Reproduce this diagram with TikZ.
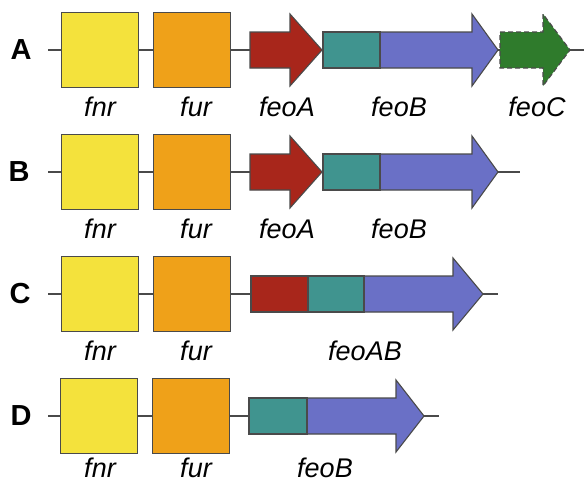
\documentclass[tikz,border=0pt]{standalone}
\usepackage{fontspec}
\setmainfont{Liberation Sans}
\definecolor{cfnr}{HTML}{F4E23C}
\definecolor{cfur}{HTML}{EFA119}
\definecolor{cred}{HTML}{A8261B}
\definecolor{cteal}{HTML}{40948F}
\definecolor{cblue}{HTML}{6A70C6}
\definecolor{cgreen}{HTML}{2F7B2C}
\definecolor{cedge}{HTML}{4A4A4A}
\begin{document}
\begin{tikzpicture}[x=1pt,y=-1pt,
  backbone/.style={draw=cedge,line width=1.1pt},
  genebox/.style={draw=cedge,line width=1.1pt,minimum width=77pt,minimum height=75pt,inner sep=0pt,anchor=west},
  geneshape/.style={draw=cedge,line width=1.1pt,line join=miter},
  genelabel/.style={font=\fontsize{27}{30}\selectfont\itshape,inner sep=0pt,anchor=base},
  rowlabel/.style={font=\fontsize{29}{31}\selectfont\bfseries,inner sep=0pt}]
\useasboundingbox (0,0) rectangle (584,483);
% ---------- Row A ----------
\coordinate (a0) at (48,50); \coordinate (a1) at (584,50);
\draw[backbone] (a0) -- (a1);
\node[rowlabel] (lA) at (21,50) {A};
\node[genebox,fill=cfnr] (fnrA) at (61,50) {};
\node[genebox,fill=cfur] (furA) at (153,50) {};
\draw[geneshape,fill=cred] (250,32) -- (290,32) -- (290,14) -- (322,50) -- (290,86) -- (290,68) -- (250,68) -- cycle;
\draw[geneshape,fill=cblue] (323,32) -- (472,32) -- (472,14) -- (498,50) -- (472,86) -- (472,68) -- (323,68) -- cycle;
\draw[geneshape,fill=cteal] (323,32) rectangle (380,68);
\draw[geneshape,fill=cgreen,dashed,dash pattern=on 5pt off 3pt] (500,32) -- (543,32) -- (543,14) -- (570,50) -- (543,86) -- (543,68) -- (500,68) -- cycle;
\node[genelabel] at (100,116) {fnr};
\node[genelabel] at (196,116) {fur};
\node[genelabel] at (287,116) {feoA};
\node[genelabel] at (399,116) {feoB};
\node[genelabel] at (537,116) {feoC};
% ---------- Row B ----------
\coordinate (b0) at (48,172); \coordinate (b1) at (520,172);
\draw[backbone] (b0) -- (b1);
\node[rowlabel] (lB) at (19,172) {B};
\node[genebox,fill=cfnr] (fnrB) at (61,172) {};
\node[genebox,fill=cfur] (furB) at (153,172) {};
\draw[geneshape,fill=cred] (250,154) -- (290,154) -- (290,136) -- (322,172) -- (290,208) -- (290,190) -- (250,190) -- cycle;
\draw[geneshape,fill=cblue] (323,154) -- (472,154) -- (472,136) -- (498,172) -- (472,208) -- (472,190) -- (323,190) -- cycle;
\draw[geneshape,fill=cteal] (323,154) rectangle (380,190);
\node[genelabel] at (100,238) {fnr};
\node[genelabel] at (196,238) {fur};
\node[genelabel] at (287,238) {feoA};
\node[genelabel] at (399,238) {feoB};
% ---------- Row C ----------
\coordinate (c0) at (48,294); \coordinate (c1) at (498,294);
\draw[backbone] (c0) -- (c1);
\node[rowlabel] (lC) at (20,294) {C};
\node[genebox,fill=cfnr] (fnrC) at (61,294) {};
\node[genebox,fill=cfur] (furC) at (153,294) {};
\draw[geneshape,fill=cblue] (251,276) -- (453,276) -- (453,258) -- (483,294) -- (453,330) -- (453,312) -- (251,312) -- cycle;
\draw[geneshape,fill=cteal] (308,276) rectangle (364,312);
\draw[geneshape,fill=cred] (251,276) rectangle (308,312);
\node[genelabel] at (100,360) {fnr};
\node[genelabel] at (196,360) {fur};
\node[genelabel] at (365,360) {feoAB};
% ---------- Row D ----------
\coordinate (d0) at (48,416); \coordinate (d1) at (439,416);
\draw[backbone] (d0) -- (d1);
\node[rowlabel] (lD) at (21,416) {D};
\node[genebox,fill=cfnr] (fnrD) at (60,416) {};
\node[genebox,fill=cfur] (furD) at (152,416) {};
\draw[geneshape,fill=cblue] (249,398) -- (396,398) -- (396,380) -- (424,416) -- (396,452) -- (396,434) -- (249,434) -- cycle;
\draw[geneshape,fill=cteal] (249,398) rectangle (307,434);
\node[genelabel] at (100,477) {fnr};
\node[genelabel] at (196,477) {fur};
\node[genelabel] at (325,477) {feoB};
\end{tikzpicture}
\end{document}
